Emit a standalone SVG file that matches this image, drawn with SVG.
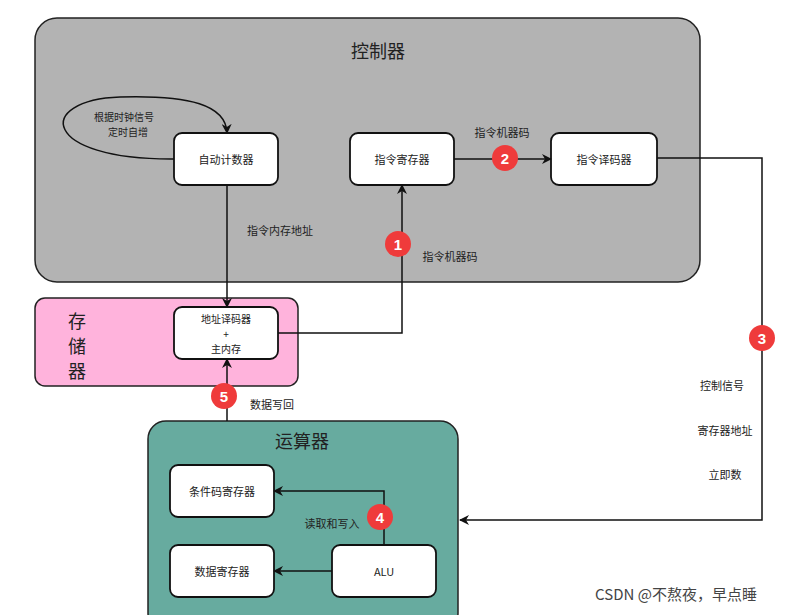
<svg xmlns="http://www.w3.org/2000/svg" width="799" height="615" viewBox="0 0 799 615">
<style>
text{font-family:"Noto Sans CJK SC","Noto Sans",sans-serif;font-size:11px;fill:#222;text-anchor:middle;dominant-baseline:central}
.s{font-size:10px}
.box{fill:#fff;stroke:#111;stroke-width:1.8}
.ln{fill:none;stroke:#111;stroke-width:1.5}
.b circle{fill:#ef3b3b}
.b text{fill:#fff;font-size:15px;font-weight:bold;font-family:"Liberation Sans",sans-serif}
.t{font-size:18px}
</style>
<defs><marker id="a" markerWidth="10" markerHeight="10" refX="9" refY="5" orient="auto" markerUnits="userSpaceOnUse"><path d="M0,0 L10,5 L0,10 L3,5z" fill="#111"/></marker></defs>
<rect width="799" height="615" fill="#fff"/>
<g id="ctrl"><rect x="35" y="18" width="665" height="264" rx="22" fill="#b3b3b3" stroke="#222" stroke-width="1.5"/><text x="378" y="50" class="t">控制器</text></g>
<g id="mem"><rect x="35" y="298" width="263" height="88" rx="10" fill="#ffb3dc" stroke="#222" stroke-width="1.5"/><text x="77" y="320" class="t">存</text><text x="77" y="345" class="t">储</text><text x="77" y="370" class="t">器</text></g>
<g id="alu-unit"><rect x="148" y="421" width="310" height="210" rx="18" fill="#67ab9f" stroke="#222" stroke-width="1.5"/><text x="302" y="440" class="t">运算器</text></g>
<g id="pc"><rect class="box" x="174" y="133" width="104" height="52" rx="8"/><text x="226" y="159">自动计数器</text></g>
<g id="ir"><rect class="box" x="350" y="133" width="104" height="52" rx="8"/><text x="402" y="159">指令寄存器</text></g>
<g id="id"><rect class="box" x="551" y="133" width="106" height="52" rx="8"/><text x="604" y="159">指令译码器</text></g>
<g id="mainmem"><rect class="box" x="174" y="307" width="104" height="52" rx="8"/><text x="226" y="318" class="s">地址译码器</text><text x="226" y="333" class="s">+</text><text x="226" y="348" class="s">主内存</text></g>
<g id="cc"><rect class="box" x="170" y="465" width="104" height="52" rx="8"/><text x="222" y="491">条件码寄存器</text></g>
<g id="dr"><rect class="box" x="170" y="545" width="104" height="52" rx="8"/><text x="222" y="571">数据寄存器</text></g>
<g id="alu"><rect class="box" x="332" y="545" width="104" height="52" rx="8"/><text x="384" y="571" font-family="Liberation Sans,sans-serif">ALU</text></g>
<g id="connectors">
<path class="ln" d="M174,159 C40,160 35,100 120,97 C190,95 226,105 227,133" marker-end="url(#a)"/>
<path class="ln" d="M454,159 H551" marker-end="url(#a)"/>
<path class="ln" d="M227,185 V307" marker-end="url(#a)"/>
<path class="ln" d="M278,333 H402 V185" marker-end="url(#a)"/>
<path class="ln" d="M657,158 H762 V520 H460" marker-end="url(#a)"/>
<path class="ln" d="M384,545 V491 H274" marker-end="url(#a)"/>
<path class="ln" d="M332,571 H274" marker-end="url(#a)"/>
<path class="ln" d="M227,421 V359" marker-end="url(#a)"/>
</g>
<g id="labels">
<text x="124" y="116" class="s">根据时钟信号</text><text x="128" y="131" class="s">定时自增</text>
<text x="502" y="132">指令机器码</text>
<text x="280" y="230">指令内存地址</text>
<text x="450" y="256">指令机器码</text>
<text x="722" y="385">控制信号</text><text x="725" y="430">寄存器地址</text><text x="725" y="474">立即数</text>
<text x="332" y="523">读取和写入</text>
<text x="272" y="404">数据写回</text>
</g>
<g class="b"><circle cx="398" cy="244" r="13"/><text x="398" y="244">1</text></g>
<g class="b"><circle cx="505" cy="158" r="13"/><text x="505" y="158">2</text></g>
<g class="b"><circle cx="762" cy="338" r="13"/><text x="762" y="338">3</text></g>
<g class="b"><circle cx="380" cy="517" r="13"/><text x="380" y="517">4</text></g>
<g class="b"><circle cx="224" cy="396" r="13"/><text x="224" y="396">5</text></g>
<text x="676" y="593" style="font-size:15px;fill:#444">CSDN @不熬夜，早点睡</text>
</svg>
